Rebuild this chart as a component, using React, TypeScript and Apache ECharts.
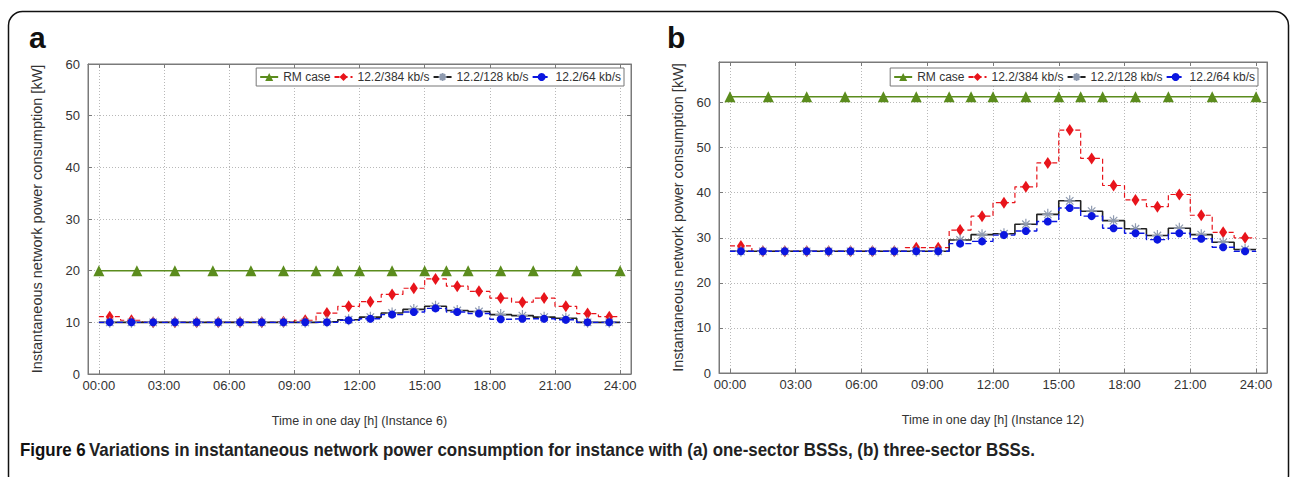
import React, { useEffect, useRef } from 'react';
import * as echarts from 'echarts';

// ---------- data ----------
const hourTicks = [0, 3, 6, 9, 12, 15, 18, 21, 24];
const hourLabels = ['00:00', '03:00', '06:00', '09:00', '12:00', '15:00', '18:00', '21:00', '24:00'];
const yTicks = [0, 10, 20, 30, 40, 50, 60];
const seriesNames = ['RM case', '12.2/384 kb/s', '12.2/128 kb/s', '12.2/64 kb/s'];

// RM case sample times (h) and values
const rmTimes = [0, 1.75, 3.5, 5.25, 7, 8.5, 10, 11, 12, 13.5, 15, 16, 17, 18.5, 20, 22, 24];
const rmA = [20, 20, 20, 20, 20, 20, 20, 20, 20, 20, 20, 20, 20, 20, 20, 20, 20];
const rmB = [61.3, 61.3, 61.3, 61.3, 61.3, 61.3, 61.3, 61.3, 61.3, 61.3, 61.3, 61.3, 61.3, 61.3, 61.3, 61.3, 61.3];

// hourly values (hour h .. h+1), panel a (Instance 6)
const r384A = [11.1, 10.4, 10, 10, 10, 10, 10, 10, 10.1, 10.4, 11.8, 13.1, 14.0, 15.4, 16.6, 18.4, 17.0, 16.0, 14.7, 13.9, 14.7, 13.1, 11.7, 11.1];
const r128A = [10, 10, 10, 10, 10, 10, 10, 10, 10, 10, 10.1, 10.5, 11.0, 11.8, 12.5, 13.1, 12.3, 12.1, 11.5, 11.3, 11.0, 10.8, 10, 10];
const r64A = [10, 10, 10, 10, 10, 10, 10, 10, 10, 10, 10, 10.4, 10.7, 11.5, 12.0, 12.7, 12.0, 11.7, 10.6, 10.7, 10.7, 10.5, 10, 10];

// panel b (Instance 12)
const r384B = [28.2, 27, 27, 27, 27, 27, 27, 27, 27.8, 27.8, 31.7, 34.8, 37.8, 41.3, 46.6, 53.9, 47.6, 41.6, 38.4, 36.9, 39.6, 35.0, 31.2, 30.0];
const r128B = [27, 27, 27, 27, 27, 27, 27, 27, 27, 27, 29.5, 30.7, 30.9, 33.0, 35.2, 38.2, 35.9, 33.8, 32.0, 30.5, 32.1, 30.7, 29.0, 27.4];
const r64B = [27, 27, 27, 27, 27, 27, 27, 27, 27, 27, 28.7, 29.2, 30.6, 31.5, 33.6, 36.6, 34.8, 32.1, 31.0, 29.6, 31.0, 29.8, 27.9, 27.0];

const FONT = '"Liberation Sans", Arial, Helvetica, sans-serif';
const GREEN = '#5b8c1d';
const RED = '#e8141b';
const BLUE = '#0b16e0';
const BLACK = '#222222';
const STAR = '#8f9bb0';
const ASTERISK = 'path://M5 0V10M0 5H10M1.6 1.6L8.4 8.4M1.6 8.4L8.4 1.6';

function stepData(vals: number[]) {
  const out: any[] = [];
  vals.forEach((v, h) => {
    out.push({ value: [h, v], symbol: 'none' });
    out.push([h + 0.5, v]);
  });
  out.push({ value: [vals.length, vals[vals.length - 1]], symbol: 'none' });
  return out;
}

function panelSeries(gi: number, rm: number[], s384: number[], s128: number[], s64: number[]) {
  const ax = { xAxisIndex: gi * 2, yAxisIndex: gi * 2 };
  return [
    {
      type: 'line', name: seriesNames[0], ...ax,
      data: rmTimes.map((t, i) => [t, rm[i]]),
      symbol: 'triangle', symbolSize: 11,
      itemStyle: { color: GREEN },
      lineStyle: { color: GREEN, width: 1.5 },
    },
    {
      type: 'line', name: seriesNames[1], ...ax,
      data: stepData(s384), step: 'end',
      symbol: 'diamond', symbolSize: [8, 12],
      itemStyle: { color: RED },
      lineStyle: { color: RED, width: 1.2, type: [5, 3] },
    },
    {
      type: 'line', name: seriesNames[2], ...ax,
      data: stepData(s128), step: 'end',
      symbol: ASTERISK, symbolSize: 11,
      itemStyle: { color: STAR, borderColor: STAR, borderWidth: 1.2 },
      lineStyle: { color: BLACK, width: 1.6 },
    },
    {
      type: 'line', name: seriesNames[3], ...ax,
      data: stepData(s64), step: 'end',
      symbol: 'circle', symbolSize: 8,
      itemStyle: { color: BLUE },
      lineStyle: { color: BLUE, width: 1.4, type: [6, 3] },
    },
  ];
}

function xAxes(gi: number, name: string) {
  const common = {
    type: 'value', gridIndex: gi, min: -0.5, max: 24.5,
    axisLine: { show: true, onZero: false, lineStyle: { color: '#7a7a7a' } },
  };
  return [
    {
      ...common, position: 'bottom',
      name, nameLocation: 'middle', nameGap: 40,
      nameTextStyle: { fontSize: 12.5, color: '#333', fontFamily: FONT },
      axisTick: { show: true, inside: true, length: 4, customValues: hourTicks, lineStyle: { color: '#7a7a7a' } },
      axisLabel: {
        customValues: hourTicks, fontSize: 13, color: '#333', fontFamily: FONT, margin: 5,
        formatter: (v: number) => hourLabels[hourTicks.indexOf(v)] ?? '',
      },
      splitLine: { show: true, lineStyle: { type: [1, 2], color: '#b8b8b8', width: 1 } },
    },
    {
      ...common, position: 'top',
      axisTick: { show: true, inside: true, length: 4, customValues: hourTicks, lineStyle: { color: '#7a7a7a' } },
      axisLabel: { show: false },
      splitLine: { show: false },
    },
  ];
}

function yAxes(gi: number, max: number, gap: number) {
  const common = {
    type: 'value', gridIndex: gi, min: 0, max,
    axisLine: { show: true, onZero: false, lineStyle: { color: '#7a7a7a' } },
  };
  return [
    {
      ...common, position: 'left',
      name: 'Instantaneous network power consumption [kW]', nameLocation: 'middle', nameGap: gap,
      nameTextStyle: { fontSize: 14.5, color: '#333', fontFamily: FONT },
      axisTick: { show: true, inside: true, length: 4, customValues: yTicks, lineStyle: { color: '#7a7a7a' } },
      axisLabel: { customValues: yTicks, fontSize: 13, color: '#333', fontFamily: FONT, margin: 8 },
      splitLine: { show: true, lineStyle: { type: [1, 2], color: '#b8b8b8', width: 1 } },
    },
    {
      ...common, position: 'right',
      axisTick: { show: true, inside: true, length: 4, customValues: yTicks, lineStyle: { color: '#7a7a7a' } },
      axisLabel: { show: false },
      splitLine: { show: false },
    },
  ];
}

function legendAt(right: number) {
  return {
    data: seriesNames, right, top: 68, orient: 'horizontal',
    itemWidth: 18, itemHeight: 10, itemGap: 3, padding: [3, 3],
    borderColor: '#777', borderWidth: 1, backgroundColor: '#fff',
    textStyle: { fontSize: 12, color: '#333', fontFamily: FONT },
    selectedMode: false,
  };
}

export default function App() {
  const ref = useRef<HTMLDivElement>(null);
  useEffect(() => {
    document.body.style.margin = '0';
    if (!ref.current) return;
    const chart = echarts.init(ref.current, null, { renderer: 'svg' });
    chart.setOption({
      animation: false,
      backgroundColor: '#fff',
      grid: [
        { left: 88, top: 64, width: 543, height: 310, show: true, borderColor: '#7a7a7a', borderWidth: 1, backgroundColor: '#fff' },
        { left: 719, top: 62, width: 548, height: 311, show: true, borderColor: '#7a7a7a', borderWidth: 1, backgroundColor: '#fff' },
      ],
      xAxis: [...xAxes(0, 'Time in one day [h] (Instance 6)'), ...xAxes(1, 'Time in one day [h] (Instance 12)')],
      yAxis: [...yAxes(0, 60, 44), ...yAxes(1, 69, 34)],
      legend: [legendAt(668), legendAt(34)],
      series: [...panelSeries(0, rmA, r384A, r128A, r64A), ...panelSeries(1, rmB, r384B, r128B, r64B)],
      graphic: [
        {
          type: 'rect', left: 6, top: 9, z: -10,
          shape: { x: 0, y: 0, width: 1280, height: 478, r: 14 },
          style: { fill: 'none', stroke: '#111', lineWidth: 1.5 },
        },
        {
          type: 'text', left: 29, top: 22,
          style: { text: 'a', font: `bold 30px ${FONT}`, fill: '#111' },
        },
        {
          type: 'text', left: 667, top: 22,
          style: { text: 'b', font: `bold 30px ${FONT}`, fill: '#111' },
        },
        {
          type: 'text', x: 20, y: 450, scaleX: 0.94,
          style: {
            text: '{b|Figure 6} {n|Variations in instantaneous network power consumption for instance with (a) one-sector BSSs, (b) three-sector BSSs.}',
            verticalAlign: 'middle',
            rich: {
              b: { font: `bold 18px ${FONT}`, fill: '#111' },
              n: { font: `bold 18px ${FONT}`, fill: '#222' },
            },
          },
        },
      ],
    });
    return () => chart.dispose();
  }, []);
  return <div ref={ref} style={{ width: 1292, height: 477 }} />;
}
